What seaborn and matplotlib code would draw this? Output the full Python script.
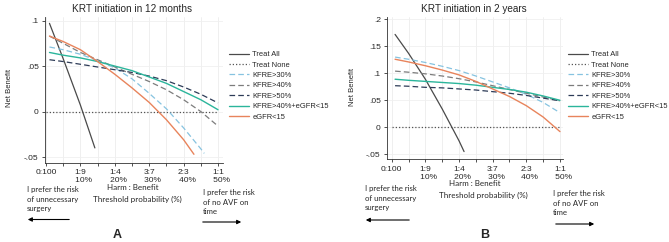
import numpy as np
import pandas as pd
import matplotlib
matplotlib.use("Agg")
import matplotlib.pyplot as plt
import seaborn as sns

# ---------------- data ----------------
series_names = ["Treat All", "Treat None", "KFRE>30%", "KFRE>40%", "KFRE>50%",
                "KFRE>40%+eGFR<15", "eGFR<15"]
thr_grid = [0.01, 0.05, 0.10, 0.15, 0.20, 0.25, 0.30, 0.35, 0.40, 0.45, 0.50]

# Panel A : KRT initiation in 12 months
a_all_thr = [0.01, 0.05, 0.10, 0.142]
a_all_nb = [0.097, 0.058, 0.007, -0.040]
a_none_thr = [0.0, 0.5]
a_none_nb = [0.0, 0.0]
a_k30_thr = [0.01, 0.05, 0.10, 0.15, 0.20, 0.25, 0.30, 0.35, 0.40, 0.45, 0.46]
a_k30_nb = [0.071, 0.068, 0.063, 0.056, 0.048, 0.036, 0.020, 0.003, -0.018, -0.041, -0.046]
a_k40_nb = [0.083, 0.075, 0.065, 0.057, 0.049, 0.041, 0.033, 0.024, 0.013, 0.000, -0.016]
a_k50_nb = [0.057, 0.055, 0.052, 0.049, 0.046, 0.043, 0.039, 0.034, 0.027, 0.019, 0.0095]
a_comb_nb = [0.065, 0.062, 0.059, 0.055, 0.050, 0.045, 0.038, 0.031, 0.022, 0.013, 0.002]
a_egfr_thr = [0.01, 0.05, 0.10, 0.15, 0.20, 0.25, 0.30, 0.35, 0.40, 0.43]
a_egfr_nb = [0.083, 0.077, 0.068, 0.055, 0.041, 0.026, 0.010, -0.009, -0.031, -0.047]

# Panel B : KRT initiation in 2 years
b_all_thr = [0.01, 0.05, 0.10, 0.15, 0.20, 0.215]
b_all_nb = [0.172, 0.137, 0.089, 0.034, -0.025, -0.045]
b_none_thr = [0.0, 0.5]
b_none_nb = [0.0, 0.0]
b_k30_nb = [0.130, 0.126, 0.120, 0.113, 0.105, 0.095, 0.084, 0.073, 0.061, 0.046, 0.027]
b_k40_nb = [0.104, 0.102, 0.099, 0.095, 0.090, 0.084, 0.077, 0.070, 0.063, 0.056, 0.049]
b_k50_nb = [0.077, 0.076, 0.074, 0.073, 0.071, 0.069, 0.066, 0.063, 0.059, 0.054, 0.049]
b_comb_nb = [0.089, 0.087, 0.085, 0.083, 0.081, 0.078, 0.074, 0.070, 0.065, 0.058, 0.050]
b_egfr_nb = [0.126, 0.121, 0.114, 0.106, 0.097, 0.085, 0.071, 0.057, 0.040, 0.019, -0.008]

xtick_vals = [0.0, 0.1, 0.2, 0.3, 0.4, 0.5]
xtick_labels = ["0:100", "1:9\n   10%", "1:4\n   20%", "3:7\n   30%", "2:3\n   40%", "1:1\n   50%"]
a_ytick_vals = [-0.05, 0.0, 0.05, 0.1]
a_ytick_labels = ["-.05", "0", ".05", ".1"]
b_ytick_vals = [-0.05, 0.0, 0.05, 0.1, 0.15, 0.2]
b_ytick_labels = ["-.05", "0", ".05", ".1", ".15", ".2"]

titles = ["KRT initiation in 12 months", "KRT initiation in 2 years"]

# ---------------- style ----------------
sns.set_style("white")
plt.rcParams["font.family"] = ["Liberation Sans", "DejaVu Sans"]

styles = {
    "Treat All": dict(color="#4a4a4a", ls="-", lw=0.9),
    "Treat None": dict(color="#555555", ls=(0, (1, 1.6)), lw=0.9),
    "KFRE>30%": dict(color="#86c3e0", ls=(0, (4.5, 2.5)), lw=0.9),
    "KFRE>40%": dict(color="#7c7c7c", ls=(0, (4.5, 2.5)), lw=0.9),
    "KFRE>50%": dict(color="#2d3b57", ls=(0, (4.5, 2.5)), lw=0.9),
    "KFRE>40%+eGFR<15": dict(color="#2bb59b", ls="-", lw=1.0),
    "eGFR<15": dict(color="#e8845c", ls="-", lw=1.0),
}

W, H = 669, 242
fig = plt.figure(figsize=(W / 100, H / 100), dpi=100)


def fx(px):
    return px / W


def fy(py):
    return 1 - py / H


def make_df(parts):
    rows = []
    for name, thr, nb in parts:
        for t, v in zip(thr, nb):
            rows.append({"series": name, "thr": t, "nb": v})
    return pd.DataFrame(rows)


panels = [
    dict(
        rect=(fx(45), fy(163), fx(223) - fx(45), fy(17) - fy(163)),
        xlim=(-0.003, 0.5145), ylim=(-0.0566, 0.104),
        yt=(a_ytick_vals, a_ytick_labels),
        df=make_df([
            ("Treat All", a_all_thr, a_all_nb),
            ("Treat None", a_none_thr, a_none_nb),
            ("KFRE>30%", a_k30_thr, a_k30_nb),
            ("KFRE>40%", thr_grid, a_k40_nb),
            ("KFRE>50%", thr_grid, a_k50_nb),
            ("KFRE>40%+eGFR<15", thr_grid, a_comb_nb),
            ("eGFR<15", a_egfr_thr, a_egfr_nb),
        ]),
        title=titles[0], title_xy=(132, 9),
        legend_xy=(229, 51),
        ylabel_xy=(10, 88),
        harm_xy=(133, 188), thr_xy=(137, 199),
        left_txt_xy=(27, 186), right_txt_xy=(203, 189),
        larrow=((72, 219.5), (25, 219.5)), rarrow=((200, 222), (244, 222)),
        letter="A", letter_xy=(117, 235.5),
    ),
    dict(
        rect=(fx(387), fy(159.3), fx(563) - fx(387), fy(16.7) - fy(159.3)),
        xlim=(-0.014, 0.509), ylim=(-0.0593, 0.2048),
        yt=(b_ytick_vals, b_ytick_labels),
        df=make_df([
            ("Treat All", b_all_thr, b_all_nb),
            ("Treat None", b_none_thr, b_none_nb),
            ("KFRE>30%", thr_grid, b_k30_nb),
            ("KFRE>40%", thr_grid, b_k40_nb),
            ("KFRE>50%", thr_grid, b_k50_nb),
            ("KFRE>40%+eGFR<15", thr_grid, b_comb_nb),
            ("eGFR<15", thr_grid, b_egfr_nb),
        ]),
        title=titles[1], title_xy=(474, 9),
        legend_xy=(568, 51),
        ylabel_xy=(352, 87),
        harm_xy=(475, 183), thr_xy=(483, 195),
        left_txt_xy=(365, 185), right_txt_xy=(553, 190),
        larrow=((412, 220), (363, 220)), rarrow=((553, 224), (597, 224)),
        letter="B", letter_xy=(485, 235.5),
    ),
]

note_font = ["Lato", "DejaVu Sans"]

for p in panels:
    ax = fig.add_axes(p["rect"])
    # grid
    for gx in np.arange(0.0, 0.5001, 0.05):
        ax.axvline(gx, color="#ededed", lw=0.6, zorder=0)
    for gy in p["yt"][0]:
        ax.axhline(gy, color="#f0f0f0", lw=0.6, zorder=0)
    df = p["df"]
    handles = []
    for name in series_names:
        st = styles[name]
        sub = df[df["series"] == name]
        sns.lineplot(data=sub, x="thr", y="nb", ax=ax, color=st["color"],
                     lw=st["lw"], estimator=None, sort=True, legend=False)
        line = ax.get_lines()[-1]
        line.set_linestyle(st["ls"])
        line.set_label(name)
        handles.append(line)
    ax.set_xlim(*p["xlim"])
    ax.set_ylim(*p["ylim"])
    ax.set_xticks(xtick_vals)
    ax.set_xticklabels(xtick_labels, fontsize=6, linespacing=1.2)
    ax.set_xticks(np.arange(0.05, 0.5, 0.1), minor=True)
    ax.set_yticks(p["yt"][0])
    ax.set_yticklabels(p["yt"][1], fontsize=6)
    ax.tick_params(axis="both", which="both", direction="out", length=2.5,
                   width=0.6, color="#333333", pad=2, bottom=True, left=True)
    ax.set_xlabel("")
    ax.set_ylabel("")
    for s in ["top", "right"]:
        ax.spines[s].set_visible(False)
    for s in ["left", "bottom"]:
        ax.spines[s].set_color("#333333")
        ax.spines[s].set_linewidth(0.6)

    fig.text(fx(p["title_xy"][0]), fy(p["title_xy"][1]), p["title"],
             ha="center", va="center", fontsize=7.2)
    fig.text(fx(p["ylabel_xy"][0]), fy(p["ylabel_xy"][1]), "Net Benefit",
             ha="center", va="center", rotation=90, fontsize=5.5)
    fig.legend(handles=handles, labels=series_names, loc="upper left",
               bbox_to_anchor=(fx(p["legend_xy"][0]), fy(p["legend_xy"][1])),
               frameon=False, fontsize=5.4, handlelength=2.6, handletextpad=0.5,
               labelspacing=0.42, borderpad=0, borderaxespad=0)
    fig.text(fx(p["harm_xy"][0]), fy(p["harm_xy"][1]), "Harm : Benefit",
             ha="center", va="center", fontsize=5.8, family=note_font)
    fig.text(fx(p["thr_xy"][0]), fy(p["thr_xy"][1]), "Threshold probability (%)",
             ha="center", va="center", fontsize=5.8, family=note_font)
    fig.text(fx(p["left_txt_xy"][0]), fy(p["left_txt_xy"][1]),
             "I prefer the risk\nof unnecessary\nsurgery",
             ha="left", va="top", fontsize=5.6, family=note_font, linespacing=1.45)
    fig.text(fx(p["right_txt_xy"][0]), fy(p["right_txt_xy"][1]),
             "I prefer the risk\nof no AVF on\ntime",
             ha="left", va="top", fontsize=5.6, family=note_font, linespacing=1.45)
    for (x1, y1), (x2, y2) in [p["larrow"], p["rarrow"]]:
        fig.add_artist(matplotlib.patches.FancyArrowPatch(
            (fx(x1), fy(y1)), (fx(x2), fy(y2)), transform=fig.transFigure,
            arrowstyle="-|>", mutation_scale=6, color="black", lw=0.8))
    fig.text(fx(p["letter_xy"][0]), fy(p["letter_xy"][1]), p["letter"],
             ha="center", va="center", fontsize=9, fontweight="bold")

fig.savefig("out.png", dpi=100)
